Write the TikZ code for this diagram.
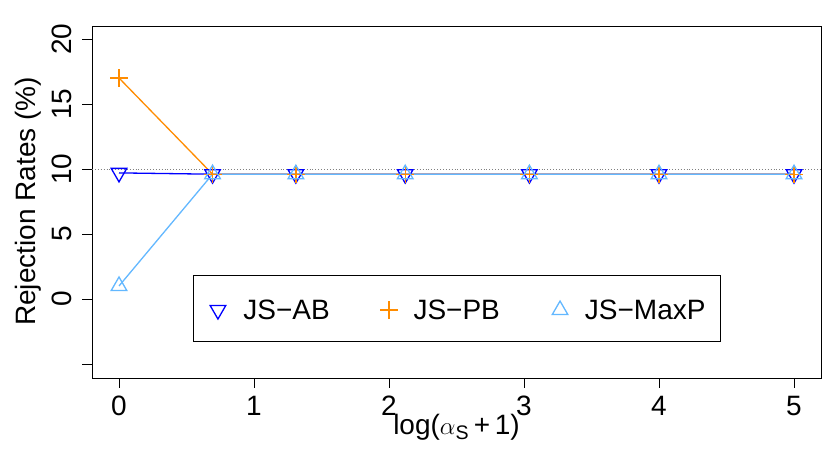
\documentclass[tikz,border=0pt]{standalone}
\usepackage{fontspec}
\setmainfont{Liberation Sans}
\usetikzlibrary{shapes.geometric}
\definecolor{cab}{RGB}{0,0,255}
\definecolor{cpb}{RGB}{255,140,0}
\definecolor{cmp}{RGB}{99,184,255}
\tikzset{
  tri/.style={regular polygon,regular polygon sides=3,draw,line width=1.3pt,minimum size=18pt,inner sep=0pt},
  tdown/.style={tri,shape border rotate=180},
  lab/.style={font=\fontsize{28pt}{30pt}\selectfont,inner sep=0pt},
  ser/.style={line width=1.3pt},
  plusm/.pic={\draw[cpb,line width=1.3pt] (-9pt,0) -- (9pt,0) (0,-9pt) -- (0,9pt);}
}
\begin{document}
\begin{tikzpicture}[x=135pt,y=13pt,shift={(119pt,162pt)}]
\useasboundingbox (-0.88148,-12.4615) rectangle (5.26667,23);
\fill[white] (-0.88148,-12.4615) rectangle (5.26667,23);
% box
\draw[line width=0.9pt] (-0.2,-6.08) rectangle (5.2,21);
\draw[gray,dotted,line width=0.9pt] (-0.2,10) -- (5.2,10);
% axes ticks
\foreach \v in {0,...,5}{\draw[line width=0.9pt] (\v,-6.08) -- ++(0,-10pt); \node[lab] (xt\v) at (\v,-8.2) {\v};}
\foreach \v in {-5,0,5,10,15,20}{\draw[line width=0.9pt] (-0.2,\v) -- ++(-10pt,0);}
\foreach \v in {0,5,10,15,20}{\node[lab,rotate=90] (yt\v) at (-0.422,\v) {\v};}
\node[lab,rotate=90] (ylab) at (-0.674,7.5) {Rejection Rates (\%)};
\node[lab] (xlab) at (2.5,-9.85) {log($\alpha$\textsubscript{S}\,+\,1)};
% series
\draw[cab,ser] (0,9.7) -- (0.693,9.6) -- (5,9.6);
\draw[cpb,ser] (0,17) -- (0.693,9.6) -- (5,9.6);
\draw[cmp,ser] (0,1) -- (0.693,9.6) -- (5,9.6);
\node[tdown,cab] (a0) at (0,9.7) {};
\pic at (0,17) {plusm};
\node[tri,cmp] (m0) at (0,1) {};
\foreach \x in {0.693,1.31,2.12,3.04,4,5} {
  \node[tdown,cab] at (\x,9.6) {};
  \pic at (\x,9.6) {plusm};
  \node[tri,cmp] at (\x,9.6) {};
}
% legend
\draw[line width=0.9pt,fill=white] (0.549,-3.23) rectangle (4.452,1.85);
\node[tdown,cab] (l1) at (0.733,-0.85) {};
\node[lab,anchor=west] (t1) at (0.92,-0.85) {JS\textminus AB};
\pic at (2.0,-0.85) {plusm};
\node[lab,anchor=west] (t2) at (2.18,-0.85) {JS\textminus PB};
\node[tri,cmp] (l3) at (3.267,-0.85) {};
\node[lab,anchor=west] (t3) at (3.45,-0.85) {JS\textminus MaxP};
\end{tikzpicture}
\end{document}
